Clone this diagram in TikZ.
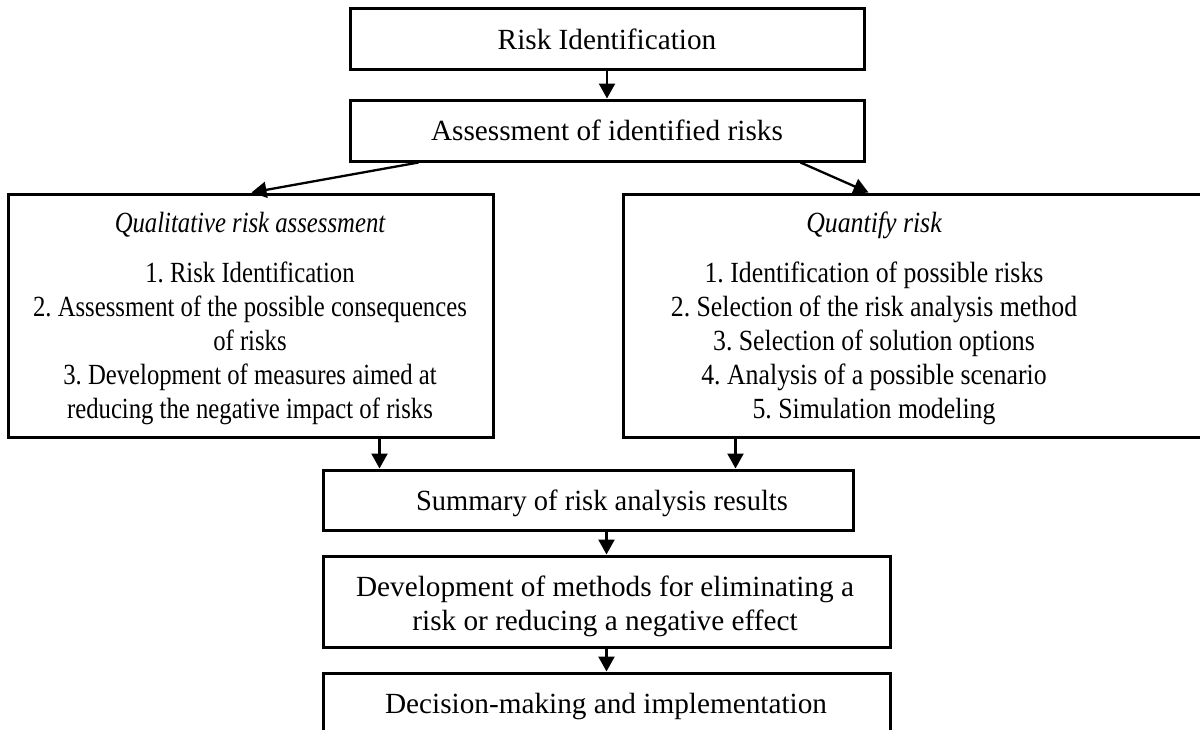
\documentclass[tikz,border=0pt]{standalone}
\usepackage{fontspec}
\setmainfont{Liberation Serif}
% condensed cuts of the same face for the two wide list boxes
\newfontfamily\narrowL[FakeStretch=0.845]{Liberation Serif}
\newfontfamily\narrowR[FakeStretch=0.882]{Liberation Serif}
\newfontfamily\narrowS[FakeStretch=0.974]{Liberation Serif}
\usetikzlibrary{arrows.meta}
\frenchspacing
\begin{document}
\begin{tikzpicture}[x=1pt,y=-1pt,
  box/.style={draw, line width=3pt, inner sep=0pt},
  txt/.style={anchor=base, inner sep=0pt, font=\fontsize{29.25}{34}\selectfont},
  ltxt/.style={txt, font=\fontsize{29.25}{34}\narrowL},
  rtxt/.style={txt, font=\fontsize{29.25}{34}\narrowR},
  stxt/.style={txt, font=\fontsize{29.25}{34}\narrowS},
  flow/.style={line width=2.3pt, -{Triangle[width=16pt,length=15pt]}}]
\useasboundingbox (0,0) rectangle (1200,729);

% frames
\node[box, minimum width=514pt, minimum height=61pt] (b1) at (607,38.5) {};
\node[box, minimum width=514pt, minimum height=61pt] (b2) at (607,130.5) {};
\node[box, minimum width=485pt, minimum height=243pt] (lb) at (250.5,315.5) {};
\node[box, minimum width=580pt, minimum height=243pt] (rb) at (913,315.5) {};
\node[box, minimum width=530pt, minimum height=60pt] (sum) at (588,500) {};
\node[box, minimum width=567pt, minimum height=91pt] (dev) at (606.5,601.5) {};
\node[box, minimum width=567pt, minimum height=64pt] (dec) at (606.5,705) {};

% labels
\node[txt] (t1) at (607,49) {Risk Identification};
\node[txt] (t2) at (607,140) {Assessment of identified risks};

\node[ltxt] (l0) at (250,232.7) {\itshape Qualitative risk assessment};
\node[ltxt] (l1) at (250,282.7) {1. Risk Identification};
\node[ltxt] (l2) at (250,316.7) {2. Assessment of the possible consequences};
\node[ltxt] (l3) at (250,350.7) {of risks};
\node[ltxt] (l4) at (250,384.7) {3. Development of measures aimed at};
\node[ltxt] (l5) at (250,418.7) {reducing the negative impact of risks};

\node[rtxt] (r0) at (874,232.7) {\itshape Quantify risk};
\node[rtxt] (r1) at (874,282.7) {1. Identification of possible risks};
\node[rtxt] (r2) at (874,316.7) {2. Selection of the risk analysis method};
\node[rtxt] (r3) at (874,350.7) {3. Selection of solution options};
\node[rtxt] (r4) at (874,384.7) {4. Analysis of a possible scenario};
\node[rtxt] (r5) at (874,418.7) {5. Simulation modeling};

\node[stxt] (t3) at (602,510) {Summary of risk analysis results};
\node[txt] (t4a) at (605,596) {Development of methods for eliminating a};
\node[txt] (t4b) at (605,630) {risk or reducing a negative effect};
\node[txt] (t5) at (606,713) {Decision-making and implementation};

% connectors
\draw[flow] (b1.south) -- (b2.north);
\draw[flow] ([xshift=70pt]b2.south west) -- ([xshift=245pt]lb.north west);
\draw[flow] ([xshift=452pt]b2.south west) -- ([xshift=247pt]rb.north west);
\draw[flow] ([xshift=373pt]lb.south west) -- ([xshift=58pt]sum.north west);
\draw[flow] ([xshift=114pt]rb.south west) -- ([xshift=414pt]sum.north west);
\draw[flow] ([xshift=285pt]sum.south west) -- ([xshift=285pt]dev.north west);
\draw[flow] ([xshift=285pt]dev.south west) -- ([xshift=285pt]dec.north west);
\end{tikzpicture}
\end{document}
